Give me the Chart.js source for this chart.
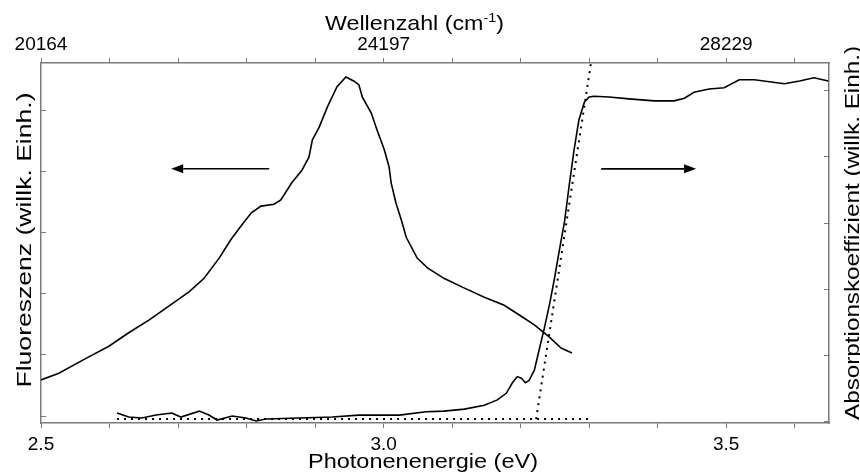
<!DOCTYPE html>
<html>
<head>
<meta charset="utf-8">
<script src="https://cdn.jsdelivr.net/npm/chart.js@4.4.0/dist/chart.umd.min.js"></script>
<style>
  body { margin: 0; background: #fff; }
  #wrap { width: 860px; height: 475px; }
</style>
</head>
<body>
<div id="wrap"><canvas id="spectrum" width="860" height="475"></canvas></div>
<script>
// Fluoreszenz (linke Achse), Photonenenergie in eV
const fluorEnergy = [2.500, 2.526, 2.567, 2.599, 2.628, 2.658, 2.687, 2.716, 2.738, 2.760, 2.777, 2.793, 2.807, 2.821, 2.840, 2.850,
  2.866, 2.881, 2.891, 2.896, 2.906, 2.918, 2.932, 2.945, 2.957, 2.964, 2.969, 2.982, 2.989, 3.001, 3.008, 3.011, 3.018,
  3.026, 3.033, 3.049, 3.064, 3.088, 3.118, 3.147, 3.176, 3.198, 3.220, 3.242, 3.259, 3.275];
const fluorValues = [0.59, 0.70, 0.95, 1.14, 1.36, 1.57, 1.80, 2.03, 2.25, 2.58, 2.88, 3.12, 3.32, 3.43, 3.46, 3.53,
  3.81, 4.02, 4.23, 4.51, 4.72, 5.05, 5.38, 5.54, 5.47, 5.41, 5.21, 4.95, 4.72, 4.35, 4.07, 3.81, 3.48,
  3.20, 2.92, 2.58, 2.42, 2.25, 2.09, 1.94, 1.81, 1.65, 1.49, 1.29, 1.11, 1.03];

// Absorptionskoeffizient (rechte Achse)
const absEnergy = [2.611, 2.628, 2.647, 2.668, 2.682, 2.691, 2.704, 2.731, 2.745, 2.757, 2.779, 2.799, 2.814, 2.828,
  2.877, 2.925, 2.964, 2.998, 3.023, 3.062, 3.088, 3.118, 3.147, 3.166, 3.179, 3.188, 3.195, 3.201, 3.207, 3.212,
  3.220, 3.227, 3.234, 3.242, 3.249, 3.256, 3.264, 3.271, 3.278, 3.285, 3.293, 3.300, 3.307, 3.329, 3.358, 3.395,
  3.424, 3.439, 3.453, 3.475, 3.497, 3.519, 3.541, 3.563, 3.585, 3.607, 3.628, 3.649];
const absValues = [0.12, 0.06, 0.045, 0.09, 0.11, 0.12, 0.06, 0.15, 0.09, 0.015, 0.076, 0.045, 0.0, 0.03,
  0.045, 0.06, 0.09, 0.09, 0.09, 0.14, 0.15, 0.18, 0.24, 0.32, 0.42, 0.58, 0.67, 0.65, 0.58, 0.61,
  0.77, 1.08, 1.38, 1.76, 2.14, 2.56, 3.02, 3.58, 4.11, 4.56, 4.83, 4.91, 4.92, 4.91, 4.88, 4.85,
  4.85, 4.89, 4.98, 5.03, 5.05, 5.17, 5.17, 5.14, 5.11, 5.15, 5.20, 5.15];

// gepunktete Hilfslinien (Basislinie und Tangente an die Absorptionskante)
const baselineEnergy = [2.611, 3.299];
const baselineValues = [0.03, 0.03];
const tangentEnergy = [3.2226, 3.3029];
const tangentValues = [0.03, 5.44];

// Achsen
const energyTicks = [2.5, 2.6, 2.7, 2.8, 2.9, 3.0, 3.1, 3.2, 3.3, 3.4, 3.5, 3.6];
const labelledTicks = [2.5, 3.0, 3.5];
const bottomTickLabels = ['2.5', '3.0', '3.5'];
const topTickLabels = ['20164', '24197', '28229'];
const leftTicks = [0, 1, 2, 3, 4, 5];
const rightTicks = [0, 1, 2, 3, 4, 5];

// Pfeile: [x1, y1, x2, y2] in Datenkoordinaten
const leftArrow = [2.833, 4.04, 2.690, 4.04];
const rightArrow = [3.3175, 3.82, 3.456, 3.82];

const FONT = "'Liberation Sans', Arial, sans-serif";
const AXIS_GREY = '#7a7a7a';

function pairs(xs, ys) {
  return xs.map((x, i) => ({ x: x, y: ys[i] }));
}

function tickLabel(labels) {
  return function (value) {
    let idx = labelledTicks.findIndex(t => Math.abs(t - value) < 1e-6);
    return idx >= 0 ? labels[idx] : '';
  };
}

function setTicks(values) {
  return function (scale) {
    scale.ticks = values.map(v => ({ value: v }));
  };
}

// Text auf gewuenschte Laenge bringen (Vorlage ist leicht gestreckt)
function fitText(ctx, parts, cx, cy, length, rotation) {
  ctx.save();
  let total = 0;
  parts.forEach(p => { ctx.font = p.size + 'px ' + FONT; total += ctx.measureText(p.text).width; });
  ctx.translate(cx, cy);
  ctx.rotate(rotation);
  ctx.scale(length / total, 1);
  let x = -total / 2;
  ctx.fillStyle = '#000';
  ctx.textBaseline = 'alphabetic';
  ctx.textAlign = 'left';
  parts.forEach(p => {
    ctx.font = p.size + 'px ' + FONT;
    ctx.fillText(p.text, x, p.rise || 0);
    x += ctx.measureText(p.text).width;
  });
  ctx.restore();
}

function drawArrow(ctx, chart, a, axisId) {
  let xs = chart.scales.x, ys = chart.scales[axisId];
  let x1 = xs.getPixelForValue(a[0]), y1 = ys.getPixelForValue(a[1]);
  let x2 = xs.getPixelForValue(a[2]), y2 = ys.getPixelForValue(a[3]);
  let ang = Math.atan2(y2 - y1, x2 - x1);
  let head = 12, half = 4.5;
  let bx = x2 - head * Math.cos(ang), by = y2 - head * Math.sin(ang);
  ctx.save();
  ctx.strokeStyle = '#000';
  ctx.fillStyle = '#000';
  ctx.lineWidth = 1.6;
  ctx.beginPath();
  ctx.moveTo(x1, y1);
  ctx.lineTo(bx, by);
  ctx.stroke();
  ctx.beginPath();
  ctx.moveTo(x2, y2);
  ctx.lineTo(bx + half * Math.sin(ang), by - half * Math.cos(ang));
  ctx.lineTo(bx - half * Math.sin(ang), by + half * Math.cos(ang));
  ctx.closePath();
  ctx.fill();
  ctx.restore();
}

const decorations = {
  id: 'decorations',
  afterDraw(chart) {
    const ctx = chart.ctx;
    drawArrow(ctx, chart, leftArrow, 'y');
    drawArrow(ctx, chart, rightArrow, 'y2');
    fitText(ctx, [{ text: 'Photonenenergie (eV)', size: 21 }], 423, 468, 230, 0);
    fitText(ctx, [{ text: 'Wellenzahl (cm', size: 21 }, { text: '-1', size: 13, rise: -8 }, { text: ')', size: 21 }],
      414.5, 30, 179, 0);
    fitText(ctx, [{ text: 'Fluoreszenz (willk. Einh.)', size: 21 }], 31, 240, 295, -Math.PI / 2);
    fitText(ctx, [{ text: 'Absorptionskoeffizient (willk. Einh.)', size: 21 }], 859, 233, 374, -Math.PI / 2);
  }
};

const lineStyle = { borderColor: '#000', backgroundColor: '#000', pointRadius: 0, showLine: true, tension: 0, fill: false };

const data = {
  datasets: [
    Object.assign({ label: 'Fluoreszenz', data: pairs(fluorEnergy, fluorValues), yAxisID: 'y', borderWidth: 1.6 }, lineStyle),
    Object.assign({ label: 'Absorption', data: pairs(absEnergy, absValues), yAxisID: 'y2', borderWidth: 1.6 }, lineStyle),
    Object.assign({ label: 'Basislinie', data: pairs(baselineEnergy, baselineValues), yAxisID: 'y2', borderWidth: 2, borderDash: [2, 5] }, lineStyle),
    Object.assign({ label: 'Tangente', data: pairs(tangentEnergy, tangentValues), yAxisID: 'y2', borderWidth: 2, borderDash: [2, 5] }, lineStyle),
  ]
};

function xAxis(position, labels, size, padding) {
  return {
    type: 'linear',
    position: position,
    min: 2.5,
    max: 3.65,
    afterBuildTicks: setTicks(energyTicks),
    afterFit: function (scale) { scale.height = position === 'bottom' ? 52 : 63; },
    grid: { drawOnChartArea: false, drawTicks: true, tickLength: 5, color: AXIS_GREY, lineWidth: 1 },
    border: { display: true, color: AXIS_GREY, width: 1.5 },
    ticks: {
      autoSkip: false, maxRotation: 0, padding: padding, color: '#000',
      font: { family: FONT, size: size },
      callback: tickLabel(labels)
    }
  };
}

function yAxis(position, min, max, ticks, width) {
  return {
    type: 'linear',
    position: position,
    min: min,
    max: max,
    afterBuildTicks: setTicks(ticks),
    afterFit: function (scale) { scale.width = width; },
    grid: { drawOnChartArea: false, drawTicks: true, tickLength: -5, color: AXIS_GREY, lineWidth: 1 },
    border: { display: true, color: AXIS_GREY, width: 1.5 },
    ticks: { display: false }
  };
}

const config = {
  type: 'scatter',
  data: data,
  options: {
    responsive: false,
    animation: false,
    devicePixelRatio: 1,
    layout: { padding: 0 },
    plugins: { legend: { display: false }, tooltip: { enabled: false } },
    scales: {
      x: xAxis('bottom', bottomTickLabels, 19, 5),
      x2: xAxis('top', topTickLabels, 19, 2),
      y: yAxis('left', -0.114, 5.768, leftTicks, 41),
      y2: yAxis('right', -0.03, 5.424, rightTicks, 31)
    }
  },
  plugins: [decorations]
};

const myChart = new Chart(document.getElementById('spectrum').getContext('2d'), config);
</script>
</body>
</html>
